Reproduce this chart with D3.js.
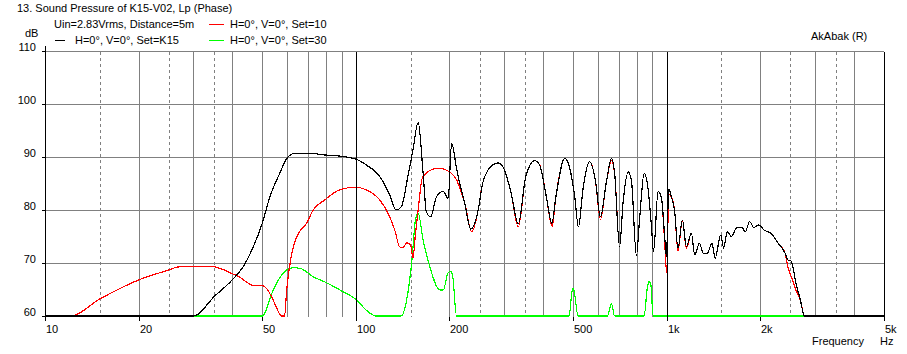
<!DOCTYPE html>
<html>
<head>
<meta charset="utf-8">
<script src="https://cdn.jsdelivr.net/npm/d3@7/dist/d3.min.js"></script>
<style>
html,body{margin:0;padding:0;background:#fff;}
svg{display:block;}
text{font-family:"Liberation Sans",Arial,sans-serif;font-size:11px;fill:#000;}
</style>
</head>
<body>
<svg id="chart" width="907" height="354"></svg>
<script>
// ---------- data ----------
const titleText = "13. Sound Pressure of K15-V02, Lp (Phase)";
const infoText = "Uin=2.83Vrms, Distance=5m";
const seriesNames = ["H=0°, V=0°, Set=K15", "H=0°, V=0°, Set=10", "H=0°, V=0°, Set=30"];
const seriesColors = ["#000000", "#ff0000", "#00ff00"];

const yTicks = [60, 70, 80, 90, 100, 110];
const xTickValues = [10, 20, 50, 100, 200, 500, 1000, 2000, 5000];
const xTickLabels = ["10", "20", "50", "100", "200", "500", "1k", "2k", "5k"];
const gridSolid = [20, 30, 40, 50, 60, 70, 80, 90, 200, 300, 400, 500, 600, 700, 800, 900, 2000, 3000, 4000];
const gridDashed = [15, 25, 35, 150, 250, 350, 1500, 2500, 3500];
const gridDecade = [100, 1000];

// Set=K15 (black)
const k15Freq = [10,30,35.2,40,43.4,46.8,50,52.9,56.9,60,63.7,73.8,76,88,100,108,119.4,128.6,134.8,140,147,152.6,158.6,164.6,168.5,173.9,181.8,190.9,198.2,203.2,210.8,216.4,224,234,247.5,255.7,273,286.8,301,316,333,352,376,390,410,427,440,470,487,506,520,538,565,590,612,640,664,680,705,724,752,770,799,819,846,871,893,907,938,962,985,998,1015,1035,1061,1087,1123,1157,1200,1231,1273,1313,1349,1398,1431,1492,1525,1565,1614,1683,1745,1788,1849,1906,1980,2059,2166,2286,2406,2450,2510,2606,2691,2774,5000];
const k15Db = [60,60,63.8,66.8,69.3,73.1,77.5,82.5,86.9,89.75,90.7,90.7,90.5,90.2,89.6,88.5,86.3,82.8,80.0,80.6,86.3,91.3,96.5,86.9,79.7,78.7,82.5,83.5,82.2,92.6,87.9,84.7,81.3,76.4,80.0,85.0,88.3,88.9,87.5,83.1,77.4,86.3,89.3,88.5,82.5,77.5,82.5,89.75,88.0,82.5,76.8,84.0,89.1,85.5,78.7,85.4,89.75,86.9,73.1,81.5,87.2,85.5,71.4,78.7,86.9,84.0,76.9,72.1,83.5,82.2,75.0,71.2,84.0,82.5,79.7,72.8,78.1,73.1,75.6,71.5,73.7,71.8,71.8,73.7,70.9,75.3,72.8,75.9,75.0,76.7,76.7,75.9,77.8,76.7,77.2,76.2,75.6,73.7,71.8,70.6,70.4,66.2,63.0,60,60];

// Set=10 (red)
const set10Freq = [10,12.1,15,20,25,26.5,28.5,33.9,36.5,39.8,42.4,45.6,47,50.3,51.6,54.2,56.7,57.5,59,59.9,62.2,64.6,69.4,72.9,79.4,88.6,99.8,108,119.4,128.6,133.4,138.6,142,146,150,152.6,155.5,158.6,163.5,168,184,192,200,210.8,216.4,224,236,247.5,255.7,273,286.8,301,316,333,352,376,390,410,428,440,470,487,506,520,538,565,590,612,640,664,680,705,724,752,770,799,819,846,871,893,907,938,962,985,1000,1015,1035,1061,1087,1123,1157,1200,1231,1273,1313,1349,1398,1431,1492,1525,1565,1614,1683,1745,1788,1849,1906,1980,2059,2166,2286,2406,2446,2540,2600,2691,2774,5000];
const set10Db = [60,60,63.2,66.8,68.7,69.2,69.4,69.4,69.0,68.05,67.3,66.0,65.7,65.7,65.2,63.0,60.5,60,60,64.9,71.8,75.0,77.5,80.0,81.9,83.8,84.3,83.8,81.9,78.7,76.2,73.0,73.0,73.8,73.4,70.9,75.5,80.0,86.0,86.9,87.9,87.7,87.2,85.7,84.0,81.3,75.9,80.0,85.0,88.3,88.9,87.5,83.1,76.8,86.3,89.3,88.5,82.5,76.9,82.5,89.75,88.0,82.5,76.8,84.0,89.1,85.5,78.2,85.4,89.3,86.9,73.1,81.5,87.2,85.5,71.4,78.7,86.9,84.0,76.9,72.1,83.5,82.2,74.0,68.1,83.0,82.5,79.7,72.3,78.1,72.8,75.6,71.5,73.7,71.8,71.8,73.7,70.9,75.3,72.8,75.9,75.0,76.7,76.7,75.9,77.8,76.7,77.2,76.2,75.6,73.7,71.8,69.6,66.8,65.0,63.0,60,60];

// Set=30 (green)
const set30Freq = [10,50,54.2,55.6,59.9,62.9,66.1,72.9,80.3,90.8,99.8,108,113.4,116,140,145,151.3,155.5,158.6,164.6,172.9,186.5,191,198.2,202,205,210.8,485,496,500,504,518.6,644.8,663.7,680,845.6,867,877,889,903.6,5000];
const set30Db = [60,60,64.9,66.2,68.7,69.1,69.0,67.4,66.3,64.6,63.2,61.1,60.2,60,60,62.4,70.2,78.1,79.4,74.3,69.3,64.9,64.9,68.2,68.4,67.4,60,60,64.6,65.2,64.6,60,60,62.3,60,60,65.5,66.5,66.0,60,60];

// ---------- drawing ----------
const svg = d3.select("#chart");
const x = d3.scaleLog().domain([10, 5000]).range([45, 884]);
const y = d3.scaleLinear().domain([60, 110]).range([316, 51]);
const px = v => Math.round(x(v)) + 0.5;
const py = v => Math.round(y(v)) + 0.5;

const grid = svg.append("g").attr("shape-rendering", "crispEdges");
// horizontal grid
grid.selectAll("line.h").data(yTicks.filter(d => d > 60)).enter().append("line")
  .attr("x1", 45).attr("x2", 884).attr("y1", d => py(d)).attr("y2", d => py(d))
  .attr("stroke", "#808080");
// vertical solid grid
grid.selectAll("line.vs").data(gridSolid).enter().append("line")
  .attr("x1", d => px(d)).attr("x2", d => px(d)).attr("y1", py(110)).attr("y2", py(60))
  .attr("stroke", "#808080");
// vertical dashed grid
grid.selectAll("line.vd").data(gridDashed).enter().append("line")
  .attr("x1", d => px(d)).attr("x2", d => px(d)).attr("y1", py(110)).attr("y2", py(60))
  .attr("stroke", "#808080").attr("stroke-dasharray", "3,3");

// curves
const line = d3.line().x(d => x(d[0])).y(d => y(d[1])).curve(d3.curveMonotoneX);
const series = [
  {f: set30Freq, v: set30Db, c: seriesColors[2]},
  {f: set10Freq, v: set10Db, c: seriesColors[1]},
  {f: k15Freq, v: k15Db, c: seriesColors[0]}
];
series.forEach(s => {
  svg.append("path").datum(s.f.map((f, i) => [f, s.v[i]]))
    .attr("d", line).attr("fill", "none").attr("stroke", s.c).attr("stroke-width", 1.2)
    .attr("shape-rendering", "crispEdges");
});

// decade lines and axes on top
const axes = svg.append("g").attr("shape-rendering", "crispEdges");
axes.selectAll("line.vdec").data(gridDecade.concat([5000])).enter().append("line")
  .attr("x1", d => px(d)).attr("x2", d => px(d)).attr("y1", py(110)).attr("y2", py(60))
  .attr("stroke", "#000");
axes.append("line").attr("x1", px(10)).attr("x2", px(10)).attr("y1", 46).attr("y2", py(60) + 0.5)
  .attr("stroke", "#000");
// y ticks
axes.selectAll("line.yt").data(yTicks).enter().append("line")
  .attr("x1", 42).attr("x2", px(10)).attr("y1", d => py(d)).attr("y2", d => py(d))
  .attr("stroke", "#000");
// x ticks
axes.selectAll("line.xt").data(xTickValues).enter().append("line")
  .attr("x1", d => px(d)).attr("x2", d => px(d)).attr("y1", py(60)).attr("y2", py(60) + 4)
  .attr("stroke", "#000");

// y labels
svg.selectAll("text.yl").data(yTicks).enter().append("text")
  .attr("x", 36).attr("y", d => Math.round(y(d)))
  .attr("text-anchor", "end").text(d => d);
// x labels
svg.selectAll("text.xl").data(xTickValues).enter().append("text")
  .attr("x", d => Math.round(x(d)) + 1).attr("y", 333)
  .text((d, i) => xTickLabels[i]);

svg.append("text").attr("x", 25).attr("y", 37).text("dB");
svg.append("text").attr("x", 812).attr("y", 345).text("Frequency");
svg.append("text").attr("x", 880).attr("y", 345).text("Hz");
svg.append("text").attr("x", 17).attr("y", 12).text(titleText);
svg.append("text").attr("x", 811).attr("y", 40).text("AkAbak (R)");
svg.append("text").attr("x", 54).attr("y", 27.5).text(infoText);

// legend
const legend = [
  {x1: 55, x2: 65, ly: 40.5, tx: 75, ty: 43.5, i: 0},
  {x1: 209, x2: 224, ly: 24.5, tx: 230, ty: 27.5, i: 1},
  {x1: 209, x2: 224, ly: 40.5, tx: 230, ty: 43.5, i: 2}
];
legend.forEach(l => {
  svg.append("line").attr("x1", l.x1).attr("x2", l.x2).attr("y1", l.ly).attr("y2", l.ly)
    .attr("stroke", seriesColors[l.i]).attr("shape-rendering", "crispEdges");
  svg.append("text").attr("x", l.tx).attr("y", l.ty).text(seriesNames[l.i]);
});
</script>
</body>
</html>
